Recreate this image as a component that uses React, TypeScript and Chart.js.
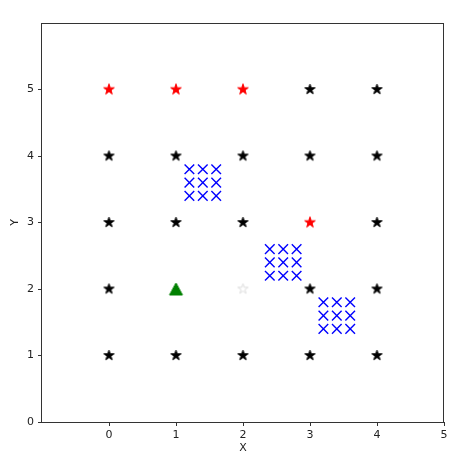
import React, { useEffect, useRef } from "react";
import { Chart, registerables } from "chart.js";

Chart.register(...registerables);

const xTicks = [-1, 0, 1, 2, 3, 4, 5];
const yTicks = [0, 1, 2, 3, 4, 5, 6];

const blackStarPoints: [number, number][] = [
  [0, 1], [1, 1], [2, 1], [3, 1], [4, 1],
  [0, 2], [3, 2], [4, 2],
  [0, 3], [1, 3], [2, 3], [4, 3],
  [0, 4], [1, 4], [2, 4], [3, 4], [4, 4],
  [3, 5], [4, 5],
];
const redStarPoints: [number, number][] = [[0, 5], [1, 5], [2, 5], [3, 3]];
const whiteStarPoints: [number, number][] = [[2, 2]];
const trianglePoints: [number, number][] = [[1, 2]];
const crossPoints: [number, number][] = [
  [1.2, 3.8], [1.4, 3.8], [1.6, 3.8],
  [1.2, 3.6], [1.4, 3.6], [1.6, 3.6],
  [1.2, 3.4], [1.4, 3.4], [1.6, 3.4],
  [2.4, 2.6], [2.6, 2.6], [2.8, 2.6],
  [2.4, 2.4], [2.6, 2.4], [2.8, 2.4],
  [2.4, 2.2], [2.6, 2.2], [2.8, 2.2],
  [3.2, 1.8], [3.4, 1.8], [3.6, 1.8],
  [3.2, 1.6], [3.4, 1.6], [3.6, 1.6],
  [3.2, 1.4], [3.4, 1.4], [3.6, 1.4],
];

function toXY(pts: [number, number][]) {
  return pts.map(([x, y]) => ({ x, y }));
}

function makeStar(fill: string, stroke: string, R: number) {
  const size = Math.ceil(R * 2 + 4);
  const c = document.createElement("canvas");
  c.width = size;
  c.height = size;
  const ctx = c.getContext("2d")!;
  const cx = size / 2;
  const cy = size / 2;
  const r = R * 0.381966;
  ctx.beginPath();
  for (let i = 0; i < 10; i++) {
    const rad = (i * Math.PI) / 5;
    const rr = i % 2 === 0 ? R : r;
    const px = cx + Math.sin(rad) * rr;
    const py = cy - Math.cos(rad) * rr;
    if (i === 0) ctx.moveTo(px, py);
    else ctx.lineTo(px, py);
  }
  ctx.closePath();
  ctx.fillStyle = fill;
  ctx.fill();
  ctx.strokeStyle = stroke;
  ctx.lineWidth = 1;
  ctx.stroke();
  return c;
}

function makeTriangle(fill: string, w: number, h: number) {
  const c = document.createElement("canvas");
  c.width = Math.ceil(w + 4);
  c.height = Math.ceil(h + 4);
  const ctx = c.getContext("2d")!;
  const cx = c.width / 2;
  const cy = c.height / 2;
  ctx.beginPath();
  ctx.moveTo(cx, cy - h / 2);
  ctx.lineTo(cx + w / 2, cy + h / 2);
  ctx.lineTo(cx - w / 2, cy + h / 2);
  ctx.closePath();
  ctx.fillStyle = fill;
  ctx.fill();
  ctx.strokeStyle = fill;
  ctx.lineWidth = 1;
  ctx.stroke();
  return c;
}

const framePlugin = {
  id: "frame",
  afterDraw(chart: any) {
    const { ctx, chartArea } = chart;
    ctx.save();
    ctx.strokeStyle = "#333";
    ctx.lineWidth = 1;
    ctx.strokeRect(
      chartArea.left - 0.5,
      chartArea.top + 0.5,
      chartArea.right - chartArea.left,
      chartArea.bottom - chartArea.top
    );
    ctx.restore();
  },
};

export default function App() {
  const ref = useRef<HTMLCanvasElement | null>(null);

  useEffect(() => {
    if (!ref.current) return;
    const blackStar = makeStar("#000000", "#000000", 5.4);
    const redStar = makeStar("#ff0000", "#ff0000", 5.6);
    const whiteStar = makeStar("#ffffff", "#dddddd", 5.4);
    const tri = makeTriangle("#008000", 13, 12);
    const font = { family: "DejaVu Sans", size: 11 };
    const tickColor = (v: number, hidden: number) =>
      v === hidden ? "rgba(0,0,0,0)" : "#333";

    const chart = new Chart(ref.current, {
      type: "scatter",
      data: {
        datasets: [
          {
            data: toXY(blackStarPoints),
            pointStyle: blackStar as any,
            pointRadius: 6,
          },
          {
            data: toXY(redStarPoints),
            pointStyle: redStar as any,
            pointRadius: 6,
          },
          {
            data: toXY(whiteStarPoints),
            pointStyle: whiteStar as any,
            pointRadius: 6,
          },
          {
            data: toXY(trianglePoints),
            pointStyle: tri as any,
            pointRadius: 7,
          },
          {
            data: toXY(crossPoints),
            pointStyle: "crossRot",
            pointRadius: 6.8,
            borderColor: "#0000ff",
            backgroundColor: "#0000ff",
            pointBorderWidth: 1.4,
          } as any,
        ],
      },
      options: {
        animation: false,
        responsive: true,
        maintainAspectRatio: false,
        layout: { padding: { left: 0, top: 23, right: 30, bottom: 0 } },
        plugins: { legend: { display: false }, tooltip: { enabled: false } },
        events: [],
        scales: {
          x: {
            type: "linear",
            min: xTicks[0],
            max: xTicks[xTicks.length - 1],
            afterFit: (s: any) => {
              s.height = 44;
            },
            afterBuildTicks: (s: any) => {
              s.ticks = xTicks.map((v) => ({ value: v }));
            },
            border: { display: false },
            grid: {
              drawOnChartArea: false,
              drawTicks: true,
              tickLength: 4,
              color: (c: any) => tickColor(c.tick?.value, -1),
            },
            ticks: {
              font,
              color: "#222",
              padding: 3,
              maxRotation: 0,
              callback: (v: any) => (v === -1 ? "" : String(v)),
            },
            title: {
              display: true,
              text: "X",
              font,
              color: "#222",
              padding: { top: 0, bottom: 11.4 },
            },
          },
          y: {
            type: "linear",
            min: yTicks[0],
            max: yTicks[yTicks.length - 1],
            afterFit: (s: any) => {
              s.width = 42;
            },
            afterBuildTicks: (s: any) => {
              s.ticks = yTicks.map((v) => ({ value: v }));
            },
            border: { display: false },
            grid: {
              drawOnChartArea: false,
              drawTicks: true,
              tickLength: 4,
              color: (c: any) => tickColor(c.tick?.value, 6),
            },
            ticks: {
              font,
              color: "#222",
              padding: 4,
              callback: (v: any) => (v === 6 ? "" : String(v)),
            },
            title: {
              display: true,
              text: "Y",
              font,
              color: "#222",
              padding: { top: 8.4, bottom: 0 },
            },
          },
        },
      },
      plugins: [framePlugin],
    });
    return () => chart.destroy();
  }, []);

  return (
    <div
      style={{
        position: "absolute",
        left: 0,
        top: 0,
        width: 474,
        height: 466,
        background: "#fff",
      }}
    >
      <canvas ref={ref} />
    </div>
  );
}
